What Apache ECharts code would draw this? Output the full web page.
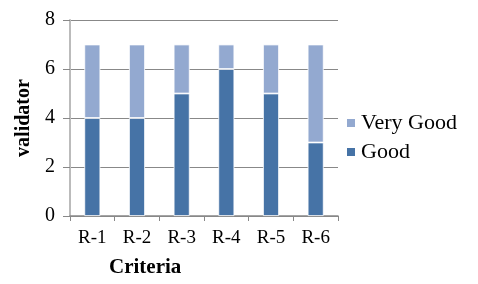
<!DOCTYPE html>
<html>
<head>
<meta charset="utf-8">
<script src="https://cdn.jsdelivr.net/npm/echarts@6/dist/echarts.min.js"></script>
<style>
  html, body { margin: 0; padding: 0; background: #fff; }
  #chart { width: 478px; height: 284px; }
</style>
</head>
<body>
<div id="chart"></div>
<script>
// data
const categories = ['R-1', 'R-2', 'R-3', 'R-4', 'R-5', 'R-6']
const good = [4, 4, 5, 6, 5, 3]
const veryGood = [3, 3, 2, 1, 2, 4]
const yTicks = [0, 2, 4, 6, 8]

const serif = '"Liberation Serif", "DejaVu Serif", serif'
const chart = echarts.init(document.getElementById('chart'))

chart.setOption({
    animation: false,
    color: ['#4673a6', '#93a9d0'],
    grid: { left: 70, right: 140, top: 20, bottom: 68 },
    // axis title sits left of the plot centre in the original
    title: {
        text: 'Criteria',
        left: 109,
        top: 257,
        padding: 0,
        textStyle: { fontFamily: serif, fontSize: 21, fontWeight: 'bold', color: '#000' }
    },
    legend: {
        orient: 'vertical',
        left: 345,
        top: 112,
        itemWidth: 10,
        itemHeight: 10,
        itemGap: 7,
        icon: 'rect',
        padding: 0,
        data: ['Very Good', 'Good'],
        textStyle: { fontFamily: serif, fontSize: 22, color: '#000' }
    },
    xAxis: {
        type: 'category',
        data: categories,
        axisLine: { lineStyle: { color: '#888', width: 1.5 } },
        axisTick: { show: true, alignWithLabel: false, length: 5, lineStyle: { color: '#888' } },
        axisLabel: { fontFamily: serif, fontSize: 19, color: '#000', margin: 13 }
    },
    yAxis: {
        type: 'value',
        min: yTicks[0],
        max: yTicks[yTicks.length - 1],
        interval: 2,
        name: 'validator',
        nameLocation: 'middle',
        nameGap: 36,
        nameTextStyle: { fontFamily: serif, fontSize: 20, fontWeight: 'bold', color: '#000' },
        axisLine: { show: true, lineStyle: { color: '#bbb', width: 2 } },
        axisTick: { show: true, length: 7, lineStyle: { color: '#888' } },
        axisLabel: { fontFamily: serif, fontSize: 20, color: '#000', margin: 15 },
        splitLine: { lineStyle: { color: '#888', width: 1 } }
    },
    series: [
        {
            name: 'Good',
            type: 'bar',
            stack: 'total',
            barWidth: 16,
            data: good,
            itemStyle: { borderColor: '#fff', borderWidth: 0.8 }
        },
        {
            name: 'Very Good',
            type: 'bar',
            stack: 'total',
            barWidth: 16,
            data: veryGood,
            itemStyle: { borderColor: '#fff', borderWidth: 0.8 }
        }
    ]
})
</script>
</body>
</html>
